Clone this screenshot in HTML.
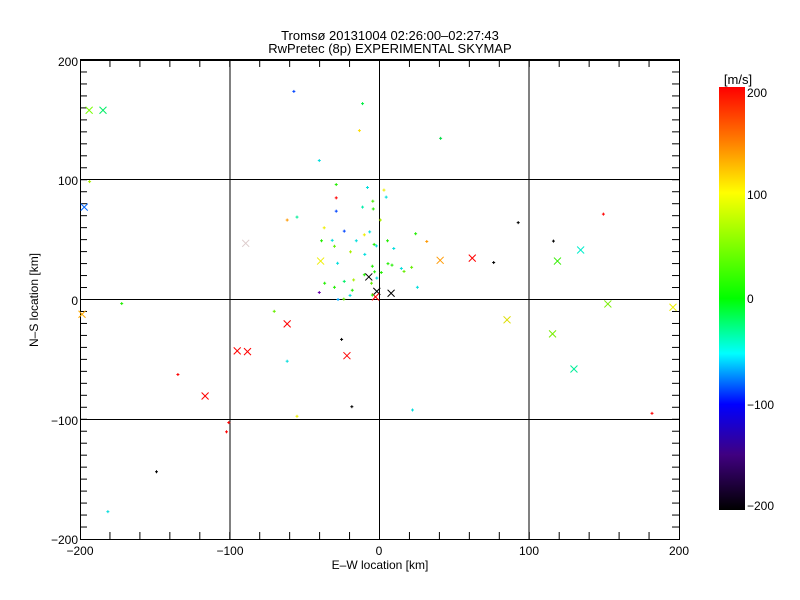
<!DOCTYPE html>
<html><head><meta charset="utf-8"><style>
html,body{margin:0;padding:0;background:#fff;}
svg{display:block;font-family:"Liberation Sans",sans-serif;}
</style></head><body>
<svg id="s" width="800" height="600" xmlns="http://www.w3.org/2000/svg">
<defs><linearGradient id="cb" x1="0" y1="0" x2="0" y2="1">
<stop offset="0" stop-color="#ff0000"/><stop offset="0.13" stop-color="#ff8000"/>
<stop offset="0.25" stop-color="#ffff00"/><stop offset="0.5" stop-color="#00ff00"/>
<stop offset="0.63" stop-color="#00ffff"/><stop offset="0.75" stop-color="#0000ff"/>
<stop offset="0.87" stop-color="#400080"/><stop offset="1" stop-color="#000000"/>
</linearGradient></defs>
<text x="390" y="40" font-size="13" text-anchor="middle">Tromsø 20131004 02:26:00–02:27:43</text>
<text x="390" y="53" font-size="13" text-anchor="middle">RwPretec (8p) EXPERIMENTAL SKYMAP</text>
<g stroke="#000" stroke-width="1" fill="none">
<rect x="80.5" y="60.5" width="599" height="479"/>
<line x1="80" y1="60" x2="680" y2="60" stroke-width="2"/>
<line x1="230" y1="60" x2="230" y2="539"/><line x1="379.5" y1="60" x2="379.5" y2="539"/><line x1="529" y1="60" x2="529" y2="539"/>
<line x1="80" y1="179.5" x2="679" y2="179.5"/><line x1="80" y1="299.5" x2="679" y2="299.5"/><line x1="80" y1="419.5" x2="679" y2="419.5"/>
</g>
<g id="ticks" stroke="#000" stroke-width="1"></g>
<g font-size="12" text-anchor="end">
<text x="78" y="66">200</text><text x="78" y="185">100</text><text x="78" y="305">0</text><text x="78" y="425">−100</text><text x="78" y="544">−200</text>
</g>
<g font-size="12" text-anchor="middle">
<text x="80" y="555">−200</text><text x="230" y="555">−100</text><text x="379" y="555">0</text><text x="529" y="555">100</text><text x="679" y="555">200</text>
</g>
<text x="380" y="569" font-size="12" text-anchor="middle">E–W location [km]</text>
<text transform="translate(38,300) rotate(-90)" font-size="12" text-anchor="middle">N–S location [km]</text>
<rect x="719" y="87" width="26" height="423" fill="url(#cb)"/>
<text x="738" y="84" font-size="13" text-anchor="middle">[m/s]</text>
<g font-size="12"><text x="747" y="97">200</text><text x="747" y="199">100</text><text x="747" y="303">0</text><text x="747" y="409">−100</text><text x="747" y="510">−200</text></g>
<g id="pts" stroke-width="1"></g>
</svg>
<script>
var NS="http://www.w3.org/2000/svg",t=document.getElementById("ticks"),p=document.getElementById("pts");
function ln(g,a,b,c,d,col){var l=document.createElementNS(NS,"line");l.setAttribute("x1",a);l.setAttribute("y1",b);l.setAttribute("x2",c);l.setAttribute("y2",d);if(col)l.setAttribute("stroke",col);g.appendChild(l);}
for(var v=-180;v<200;v+=20){var x=379.5+v*1.4975;ln(t,x,539,x,532);ln(t,x,60,x,67);}
for(var v=-190;v<200;v+=10){var y=299.5-v*1.1975;ln(t,80,y,87,y);ln(t,679,y,672,y);}
var X=[[201,243,'#7f0'],[232,243,'#0e6'],[190,505,'#06f'],[185,795,'#fa0'],[552,603,'#dcc'],[720,651,'#ee0'],[645,821,'red'],[533,894,'red'],[556,896,'red'],[779,907,'red'],[461,1016,'red'],[828,694,'#000'],[846,733,'#000'],[878,738,'#000'],[843,748,'red'],[988,649,'#f90'],[1060,643,'red'],[1251,651,'#3e0'],[1303,621,'#0ec'],[1364,767,'#7e0'],[1138,810,'#dd0'],[1240,848,'#7e0'],[1288,943,'#0e9'],[1510,776,'#ee0']];
var P=[[202,436,'#ae0'],[660,192,'#04f'],[814,225,'#0e4'],[807,298,'#fd0'],[989,319,'#0d4'],[717,379,'#0dd'],[755,444,'#2e0'],[825,452,'#0dd'],[862,459,'#ee0'],[755,480,'red'],[837,489,'#4e0'],[867,478,'#0dd'],[814,505,'#0ea'],[838,510,'#2e0'],[755,516,'#04f'],[645,540,'#f90'],[667,532,'#0e9'],[854,540,'#ae0'],[728,561,'#ee0'],[773,570,'#04f'],[830,572,'#0dd'],[818,580,'#ee0'],[933,577,'#2e0'],[958,598,'#f90'],[722,596,'#2e0'],[746,595,'#0dd'],[800,596,'#0dd'],[870,596,'#2e0'],[840,606,'#2e0'],[845,610,'#0dd'],[751,611,'#6e0'],[884,617,'#0dd'],[787,626,'#ae0'],[819,633,'#0dd'],[758,657,'#0dd'],[836,665,'#2e0'],[871,658,'#2e0'],[880,662,'#2e0'],[901,671,'#0dd'],[907,679,'#6e0'],[924,668,'#6e0'],[1163,547,'#000'],[1242,597,'#000'],[1108,655,'#000'],[1354,524,'red'],[841,680,'#2e0'],[856,682,'#2e0'],[818,688,'#2e0'],[846,697,'#0dd'],[794,702,'#ae0'],[773,706,'#0e6'],[729,711,'#2e0'],[834,711,'#6e0'],[937,722,'#0dd'],[751,722,'#2e0'],[791,730,'#2e0'],[717,736,'#60a'],[786,744,'#0dd'],[836,743,'#2e0'],[759,755,'#0af'],[772,754,'#6e0'],[274,766,'#2e0'],[616,787,'#6e0'],[767,863,'#000'],[645,922,'#0dd'],[400,958,'red'],[790,1045,'#000'],[926,1054,'#0dd'],[667,1071,'#ee0'],[1463,1063,'red'],[514,1088,'red'],[509,1113,'red'],[352,1221,'#000'],[243,1329,'#0dd']];
function m(a){return [379.5+(a[0]-852)*0.446,299.5+(a[1]-755)*0.3696];}
X.forEach(function(a){var q=m(a);ln(p,q[0]-3.5,q[1]-3.5,q[0]+3.5,q[1]+3.5,a[2]);ln(p,q[0]-3.5,q[1]+3.5,q[0]+3.5,q[1]-3.5,a[2]);});
P.forEach(function(a){var q=m(a);ln(p,q[0]-1.5,q[1],q[0]+1.5,q[1],a[2]);ln(p,q[0],q[1]-1.5,q[0],q[1]+1.5,a[2]);});
</script>
</body></html>
